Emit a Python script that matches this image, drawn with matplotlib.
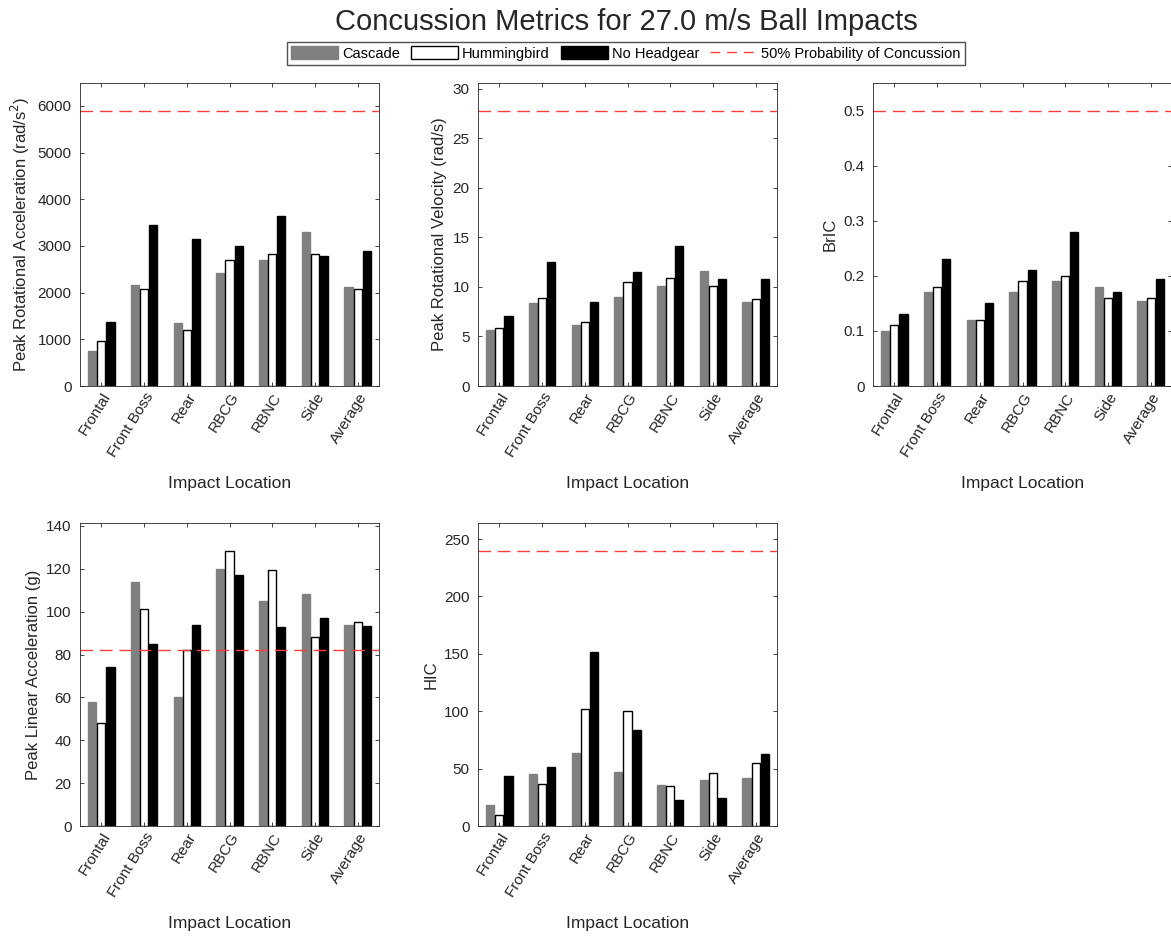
import numpy as np
import matplotlib
matplotlib.use("Agg")
import matplotlib.pyplot as plt
import matplotlib.transforms as mtransforms
from matplotlib.patches import Patch
from matplotlib.lines import Line2D

plt.rcParams['font.family'] = ['Liberation Sans', 'DejaVu Sans']

# Data ___________________________________________________________________________
locations = ["Frontal", "Front Boss", "Rear", "RBCG", "RBNC", "Side", "Average"]
groups = ["Cascade", "Hummingbird", "No Headgear"]

rot_acc = {
    "Cascade":     [760, 2160, 1350, 2430, 2700, 3300, 2110],
    "Hummingbird": [960, 2070, 1190, 2700, 2820, 2820, 2070],
    "No Headgear": [1380, 3450, 3150, 3000, 3640, 2790, 2890],
}
rot_vel = {
    "Cascade":     [5.7, 8.4, 6.2, 9.0, 10.1, 11.6, 8.5],
    "Hummingbird": [5.9, 8.9, 6.5, 10.5, 10.9, 10.1, 8.8],
    "No Headgear": [7.1, 12.5, 8.5, 11.5, 14.1, 10.8, 10.8],
}
bric = {
    "Cascade":     [0.10, 0.17, 0.12, 0.17, 0.19, 0.18, 0.155],
    "Hummingbird": [0.11, 0.18, 0.12, 0.19, 0.20, 0.16, 0.16],
    "No Headgear": [0.13, 0.23, 0.15, 0.21, 0.28, 0.17, 0.195],
}
lin_acc = {
    "Cascade":     [58, 114, 60, 120, 105, 108, 94],
    "Hummingbird": [48, 101, 82, 128.5, 119.5, 88, 95],
    "No Headgear": [74, 85, 94, 117, 93, 97, 93.5],
}
hic = {
    "Cascade":     [18, 45, 64, 47, 36, 40, 42],
    "Hummingbird": [10, 37, 102, 100, 35, 46, 55],
    "No Headgear": [44, 51, 152, 84, 23, 24, 63],
}

thresholds = [5900, 27.8, 0.5, 82, 240]
ylabels = ["Peak Rotational Acceleration (rad/s$^2$)", "Peak Rotational Velocity (rad/s)",
           "BrIC", "Peak Linear Acceleration (g)", "HIC"]
yticks = [np.arange(0, 6001, 1000), np.arange(0, 31, 5), np.arange(0, 0.51, 0.1),
          np.arange(0, 141, 20), np.arange(0, 251, 50)]
metrics = [rot_acc, rot_vel, bric, lin_acc, hic]

face = {"Cascade": "#808080", "Hummingbird": "white", "No Headgear": "black"}
edge = {"Cascade": "#808080", "Hummingbird": "black", "No Headgear": "black"}
red = "#ff3d3d"
txt = "#262626"

# Figure __________________________________________________________________________
W, H = 1171, 939
fig = plt.figure(figsize=(W / 100, H / 100), dpi=100)

# axes boxes in pixels: left, top
boxes = [(80, 83), (478, 83), (873, 83), (80, 523), (478, 523)]
aw, ah = 299, 303

x = np.arange(1, len(locations) + 1)
offsets = [-0.215, 0.0, 0.215]
bw = 0.19
shift = mtransforms.ScaledTranslation(9 / 100, 0, fig.dpi_scale_trans)

for i, data in enumerate(metrics):
    left, top = boxes[i]
    ax = fig.add_axes([left / W, 1 - (top + ah) / H, aw / W, ah / H])
    for j, g in enumerate(groups):
        ax.bar(x + offsets[j], data[g], width=bw, color=face[g], edgecolor=edge[g],
               linewidth=1.0)
    ax.axhline(thresholds[i], color=red, linestyle=(0, (9, 5)), linewidth=1.0)
    vmax = max(thresholds[i], max(max(v) for v in data.values()))
    ax.set_ylim(0, 1.1 * vmax)
    ax.set_xlim(0.5, 7.5)
    ax.set_yticks(yticks[i])
    if i == 2:
        ax.set_yticklabels(["0"] + ["%.1f" % t for t in yticks[i][1:]])
    ax.set_xticks(x)
    ax.set_xticklabels(locations, rotation=58, ha="right", va="top",
                       rotation_mode="anchor")
    for lab in ax.get_xticklabels():
        lab.set_transform(lab.get_transform() + shift)
    ax.tick_params(direction="in", top=True, right=True, length=3, width=0.6,
                   labelsize=11, colors=txt, pad=6)
    ax.tick_params(axis="x", pad=3)
    for s in ax.spines.values():
        s.set_color(txt)
        s.set_linewidth(0.6)
    ax.set_ylabel(ylabels[i], fontsize=12, color=txt)
    ax.set_xlabel("Impact Location", fontsize=12.5, color=txt, labelpad=12)

fig.suptitle("Concussion Metrics for 27.0 m/s Ball Impacts", fontsize=21, color=txt,
             x=626 / W, y=0.992)

handles = [Patch(facecolor=face[g], edgecolor=edge[g], linewidth=1.0) for g in groups]
handles.append(Line2D([0], [0], color=red, linestyle=(0, (7, 5)), linewidth=1.0))
labels = groups + ["50% Probability of Concussion"]
fig.legend(handles, labels, loc="center", bbox_to_anchor=(626 / W, 1 - 53.5 / H), ncol=4,
           fontsize=10.5, frameon=True, fancybox=False, edgecolor=txt,
           handlelength=3.2, handleheight=1.0, handletextpad=0.3, columnspacing=0.75,
           borderpad=0.3, borderaxespad=0)

fig.savefig("out.png", dpi=100)
